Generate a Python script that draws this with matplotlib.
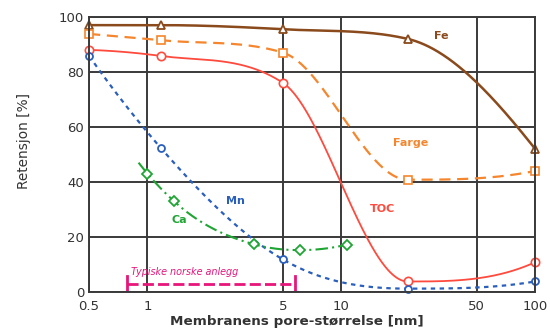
import numpy as np
import matplotlib.pyplot as plt

# pore size [nm] and retention [%]
fe_x = [0.5, 1.17, 5.0, 22.0, 100.0]
fe_y = [97.0, 97.0, 95.5, 92.0, 52.0]

farge_x = [0.5, 1.17, 5.0, 22.0, 100.0]
farge_y = [93.8, 91.5, 87.0, 40.8, 44.0]

toc_x = [0.5, 1.17, 5.0, 22.0, 100.0]
toc_y = [88.0, 85.8, 76.0, 3.8, 10.8]

mn_x = [0.5, 1.17, 5.0, 22.0, 100.0]
mn_y = [85.8, 52.4, 11.8, 1.2, 3.8]

ca_x = [1.0, 1.37, 3.55, 6.1, 10.7]
ca_y = [43.0, 33.0, 17.3, 15.2, 17.2]
ca_start = (0.9, 47.0)

span_x = [0.785, 5.77]
span_y = 2.9

xticks = [0.5, 1, 5, 10, 50, 100]
xtick_labels = ['0.5', '1', '5', '10', '50', '100']
yticks = [0, 20, 40, 60, 80, 100]


def smooth(xs, ys, n=200):
    # monotone cubic hermite in log-x through the points, only for drawing
    lx = np.log10(xs)
    ys = np.asarray(ys, float)
    h = np.diff(lx)
    d = np.diff(ys) / h
    m = np.zeros(len(lx))
    for i in range(1, len(lx) - 1):
        if d[i - 1] * d[i] <= 0:
            m[i] = 0
        else:
            m[i] = (h[i] * d[i - 1] + h[i - 1] * d[i]) / (h[i - 1] + h[i])
            lim = 3 * min(abs(d[i - 1]), abs(d[i]))
            if abs(m[i]) > lim:
                m[i] = np.sign(m[i]) * lim
    for i, j, k in [(0, 0, 1), (-1, -1, -2)]:
        e = ((2 * h[j] + h[k]) * d[j] - h[j] * d[k]) / (h[j] + h[k])
        if e * d[j] <= 0:
            e = 0
        elif d[j] * d[k] < 0 and abs(e) > 3 * abs(d[j]):
            e = 3 * d[j]
        m[i] = e
    out_x, out_y = [], []
    for i in range(len(lx) - 1):
        t = np.linspace(0, 1, n)
        h00 = 2 * t**3 - 3 * t**2 + 1
        h10 = t**3 - 2 * t**2 + t
        h01 = -2 * t**3 + 3 * t**2
        h11 = t**3 - t**2
        yy = h00 * ys[i] + h10 * h[i] * m[i] + h01 * ys[i + 1] + h11 * h[i] * m[i + 1]
        out_x.append(10 ** (lx[i] + t * h[i]))
        out_y.append(yy)
    return np.concatenate(out_x), np.concatenate(out_y)


fig, ax = plt.subplots(figsize=(5.5, 3.31), dpi=100)
fig.subplots_adjust(left=0.162, right=0.973, top=0.949, bottom=0.118)

c_fe = '#8a4a1c'
c_farge = '#f5862e'
c_toc = '#ff4a3d'
c_mn = '#2a5fbd'
c_ca = '#1fa534'
c_span = '#e8157a'

sx, sy = smooth(fe_x, fe_y)
ax.plot(sx, sy, color=c_fe, lw=1.8)
ax.plot(fe_x, fe_y, ls='none', marker='^', ms=6, mfc='white', mec=c_fe, mew=1.3, clip_on=False)

sx, sy = smooth(farge_x, farge_y)
ax.plot(sx, sy, color=c_farge, lw=1.6, ls=(0, (5, 3)))
ax.plot(farge_x, farge_y, ls='none', marker='s', ms=6, mfc='white', mec=c_farge, mew=1.2, clip_on=False)

sx, sy = smooth(toc_x, toc_y)
ax.plot(sx, sy, color=c_toc, lw=1.3)
ax.plot(toc_x, toc_y, ls='none', marker='o', ms=6, mfc='white', mec=c_toc, mew=1.2, clip_on=False)

sx, sy = smooth(mn_x, mn_y)
ax.plot(sx, sy, color=c_mn, lw=1.6, ls=(0, (2, 2)))
ax.plot(mn_x, mn_y, ls='none', marker='o', ms=5, mfc='white', mec=c_mn, mew=1.3, clip_on=False)

sx, sy = smooth([ca_start[0]] + ca_x, [ca_start[1]] + ca_y)
ax.plot(sx, sy, color=c_ca, lw=1.5, ls=(0, (6, 2, 1, 2)))
ax.plot(ca_x, ca_y, ls='none', marker='D', ms=5.5, mfc='white', mec=c_ca, mew=1.3, clip_on=False)

ax.plot(span_x, [span_y, span_y], color=c_span, lw=2, ls=(0, (4, 1.5)))
for xv in span_x:
    ax.plot([xv, xv], [span_y - 2.8, span_y + 2.8], color=c_span, lw=2)
ax.text(0.82, 7.3, 'Typiske norske anlegg', color=c_span, fontsize=6.9,
        style='italic', va='center')

ax.text(30, 93, 'Fe', color=c_fe, fontsize=8, fontweight='bold', va='center')
ax.text(18.5, 54, 'Farge', color=c_farge, fontsize=8, fontweight='bold', va='center')
ax.text(14, 30, 'TOC', color=c_toc, fontsize=8, fontweight='bold', va='center')
ax.text(2.55, 33, 'Mn', color=c_mn, fontsize=8, fontweight='bold', va='center')
ax.text(1.33, 26, 'Ca', color=c_ca, fontsize=8, fontweight='bold', va='center')

ax.set_xscale('log')
ax.set_xlim(0.5, 100)
ax.set_ylim(0, 100)
ax.set_xticks(xticks)
ax.set_xticklabels(xtick_labels)
ax.minorticks_off()
ax.set_yticks(yticks)
ax.tick_params(length=0, labelsize=9.5, colors='#333333')
ax.tick_params(axis='x', pad=6)
ax.grid(True, color='#3a3a3a', lw=1.4)
ax.set_axisbelow(True)
for s in ax.spines.values():
    s.set_color('#3a3a3a')
    s.set_linewidth(1.4)

ax.set_xlabel('Membranens pore-størrelse [nm]', fontsize=9.7, fontweight='bold',
              color='#333333')
ax.xaxis.set_label_coords(0.466, -0.085, transform=ax.transAxes)
ax.set_ylabel('Retensjon [%]', fontsize=9.8, color='#333333')
ax.yaxis.set_label_coords(-0.13, 0.55)

fig.savefig('out.png', dpi=100)
